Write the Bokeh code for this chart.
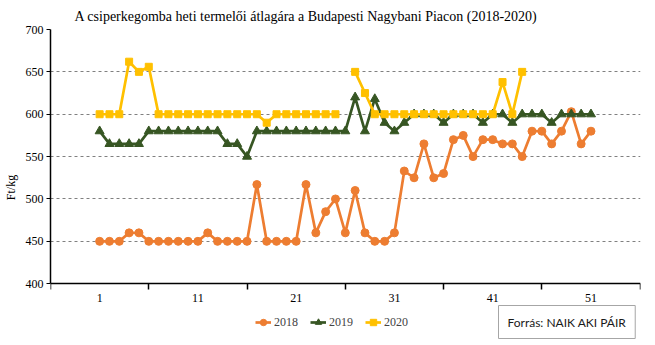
import numpy as np
from bokeh.plotting import figure
from bokeh.models import Range1d, FixedTicker, Legend, LegendItem, Label
from bokeh.embed import file_html
from bokeh.resources import INLINE

# ---- data ----
weeks = list(range(1, 52))
y2018 = [450, 450, 450, 460, 460, 450, 450, 450, 450, 450,
         450, 460, 450, 450, 450, 450, 517, 450, 450, 450,
         450, 517, 460, 485, 500, 460, 510, 460, 450, 450,
         460, 533, 525, 565, 525, 530, 570, 575, 550, 570,
         570, 565, 565, 550, 580, 580, 565, 580, 603, 565,
         580]
y2019 = [580, 565, 565, 565, 565, 580, 580, 580, 580, 580,
         580, 580, 580, 565, 565, 550, 580, 580, 580, 580,
         580, 580, 580, 580, 580, 580, 620, 580, 618, 590,
         580, 590, 600, 600, 600, 590, 600, 600, 600, 590,
         600, 600, 590, 600, 600, 600, 590, 600, 600, 600,
         600]
y2020 = [600, 600, 600, 662, 650, 656, 600, 600, 600, 600,
         600, 600, 600, 600, 600, 600, 600, 590, 600, 600,
         600, 600, 600, 600, 600, None, 650, 625, 600, 600,
         600, 600, 600, 600, 600, 600, 600, 600, 600, 600,
         600, 638, 600, 650]
weeks2020 = list(range(1, len(y2020) + 1))
series_names = ["2018", "2019", "2020"]
x_labels = {1: "1", 11: "11", 21: "21", 31: "31", 41: "41", 51: "51"}
group_ticks = [-4, 6, 16, 26, 36, 46, 56]
y_ticks = [400, 450, 500, 550, 600, 650, 700]
title_text = "A csiperkegomba heti termelői átlagára a Budapesti Nagybani Piacon (2018-2020)"
source_text = "Forrás: NAIK AKI PÁIR"

C18, C19, C20 = "#ED7D31", "#375623", "#FFC000"
SERIF = "Liberation Serif"

# frame: x 48..640, y 28..345 ; value 400 sits at pixel 283 (0.85 px per unit)
Y_LOW = 400 - 62 / 0.85

p = figure(width=655, height=345, output_backend="svg", toolbar_location=None,
           x_range=Range1d(-4, 56.04), y_range=Range1d(Y_LOW, 700),
           min_border_left=48, min_border_right=15, min_border_top=28,
           min_border_bottom=0)
p.outline_line_color = None
p.background_fill_color = "white"
p.border_fill_color = "white"

p.title.text = title_text
p.title.text_font = SERIF
p.title.text_font_size = "14px"
p.title.text_font_style = "normal"
p.title.text_color = "black"
p.title.align = "left"
p.title.offset = 24
p.title.standoff = 12

# grid
p.xgrid.visible = False
p.ygrid.ticker = FixedTicker(ticks=y_ticks[1:])
p.ygrid.grid_line_color = "#808080"
p.ygrid.grid_line_dash = "3 3"
p.ygrid.grid_line_width = 1

# y axis
p.yaxis.ticker = FixedTicker(ticks=y_ticks)
p.yaxis.bounds = (400, 700)
p.yaxis.axis_line_color = "black"
p.yaxis.axis_line_width = 1.5
p.yaxis.major_tick_out = 4
p.yaxis.major_tick_in = 0
p.yaxis.minor_tick_line_color = None
p.yaxis.major_label_standoff = 3
p.yaxis.major_label_text_font = SERIF
p.yaxis.major_label_text_font_size = "12px"
p.yaxis.major_label_text_color = "black"
p.yaxis.axis_label = "Ft/kg"
p.yaxis.axis_label_text_font = SERIF
p.yaxis.axis_label_text_font_size = "12px"
p.yaxis.axis_label_text_font_style = "normal"
p.yaxis.axis_label_text_color = "black"
p.yaxis.axis_label_standoff = 5

# x axis, pinned at value 400
p.xaxis.fixed_location = 400
p.xaxis.ticker = FixedTicker(ticks=list(x_labels.keys()), minor_ticks=group_ticks)
p.xaxis.major_label_overrides = x_labels
p.xaxis.axis_line_color = "black"
p.xaxis.axis_line_width = 1.5
p.xaxis.major_tick_out = 0
p.xaxis.major_tick_in = 0
p.xaxis.minor_tick_out = 6
p.xaxis.minor_tick_in = 0
p.xaxis.minor_tick_line_color = "black"
p.xaxis.minor_tick_line_width = 1.5
p.xaxis.major_label_standoff = 4
p.xaxis.major_label_text_font = SERIF
p.xaxis.major_label_text_font_size = "12px"
p.xaxis.major_label_text_color = "black"

# series
l18 = p.line(weeks, y2018, color=C18, line_width=2.7)
s18 = p.scatter(weeks, y2018, marker="circle", size=8, color=C18)
l19 = p.line(weeks, y2019, color=C19, line_width=2.7)
s19 = p.scatter(weeks, y2019, marker="triangle", size=9, color=C19)
y2020_arr = np.array([np.nan if v is None else v for v in y2020], dtype=float)
l20 = p.line(weeks2020, y2020_arr, color=C20, line_width=2.7)
s20 = p.scatter(weeks2020, y2020_arr, marker="square", size=7, color=C20)

legend = Legend(items=[LegendItem(label=series_names[0], renderers=[l18, s18]),
                       LegendItem(label=series_names[1], renderers=[l19, s19]),
                       LegendItem(label=series_names[2], renderers=[l20, s20])],
                orientation="horizontal", location=(205, 12),
                glyph_width=16, glyph_height=22, label_standoff=3, spacing=12,
                padding=0, margin=0, border_line_color=None,
                background_fill_alpha=0,
                label_text_font=SERIF, label_text_font_size="12px")
p.add_layout(legend, "center")

src = Label(x=448, y=7, x_units="screen", y_units="screen", text=source_text,
            text_font="Lato", text_font_size="12px", text_color="#1a1a1a",
            border_line_color="#a6a6a6", background_fill_color="white",
            padding=9)
p.add_layout(src)

open("out.html", "w").write(file_html(p, INLINE))
